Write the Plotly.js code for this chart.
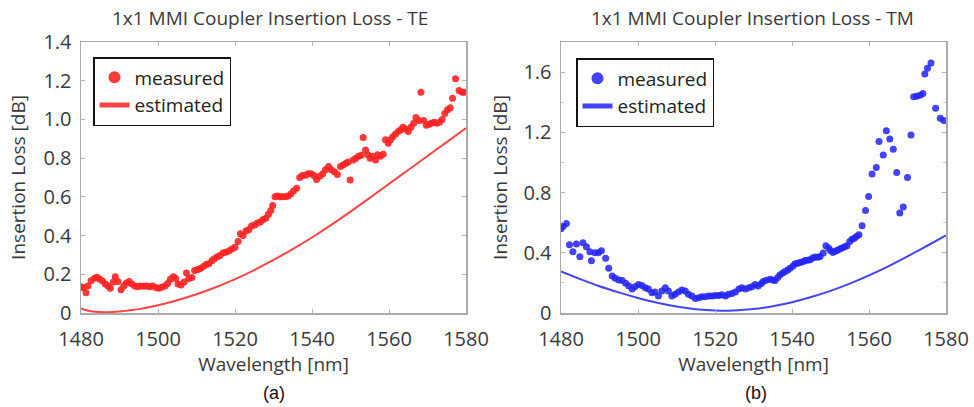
<!DOCTYPE html>
<html>
<head>
<meta charset="utf-8">
<script src="https://cdn.plot.ly/plotly-3.0.1.min.js"></script>
<style>html,body{margin:0;padding:0;background:#fff;}#chart{width:974px;height:407px;}</style>
</head>
<body>
<div id="chart"></div>
<script>
// ---- TE (a) ----
const teMeasWl = [1480.0,1480.6,1481.3,1481.8,1482.6,1483.5,1484.2,1484.9,1485.6,1486.3,1487.0,1487.6,1488.4,1488.9,1489.6,1490.4,1491.1,1491.8,1492.5,1493.2,1494.0,1494.7,1495.4,1496.2,1497.0,1497.8,1498.6,1499.4,1500.2,1501.0,1501.8,1502.5,1503.2,1504.0,1504.6,1505.2,1506.0,1506.8,1507.4,1508.0,1508.8,1509.5,1510.3,1511.0,1511.8,1512.5,1513.2,1514.0,1514.6,1515.4,1516.1,1516.9,1517.6,1518.4,1519.2,1520.0,1520.8,1521.4,1522.1,1522.9,1523.6,1524.3,1525.1,1525.8,1526.6,1527.3,1528.0,1528.7,1529.3,1529.8,1530.4,1531.0,1531.7,1532.4,1533.1,1533.8,1534.5,1535.2,1536.0,1536.8,1537.5,1538.3,1539.0,1539.8,1540.5,1541.2,1542.0,1542.8,1543.5,1544.3,1545.0,1545.8,1546.6,1547.4,1548.1,1548.8,1549.4,1549.9,1550.7,1551.4,1552.1,1552.8,1553.3,1553.9,1554.5,1555.1,1555.8,1556.5,1557.1,1557.8,1558.5,1559.1,1559.8,1560.4,1561.0,1561.7,1562.4,1563.0,1563.6,1564.3,1565.0,1565.7,1566.4,1567.0,1567.8,1568.3,1569.0,1569.7,1570.4,1571.0,1571.7,1572.4,1573.1,1573.8,1574.5,1575.2,1575.9,1576.5,1577.3,1578.2,1579.0,1579.6];
const teMeasIL = [0.135,0.13,0.105,0.14,0.167,0.18,0.185,0.175,0.165,0.15,0.14,0.128,0.16,0.187,0.163,0.12,0.14,0.155,0.163,0.15,0.14,0.135,0.14,0.138,0.14,0.136,0.14,0.132,0.128,0.133,0.14,0.152,0.175,0.187,0.178,0.15,0.145,0.16,0.206,0.178,0.184,0.22,0.225,0.23,0.24,0.25,0.255,0.27,0.28,0.29,0.297,0.31,0.314,0.32,0.33,0.34,0.37,0.41,0.40,0.425,0.43,0.45,0.455,0.465,0.47,0.483,0.49,0.51,0.53,0.555,0.60,0.604,0.60,0.60,0.60,0.605,0.615,0.63,0.645,0.70,0.71,0.712,0.72,0.72,0.71,0.69,0.707,0.72,0.74,0.757,0.74,0.73,0.715,0.757,0.765,0.774,0.78,0.687,0.79,0.80,0.81,0.815,0.907,0.842,0.817,0.80,0.81,0.79,0.817,0.81,0.82,0.895,0.877,0.895,0.91,0.925,0.937,0.946,0.96,0.95,0.937,0.96,0.98,1.01,0.995,1.14,0.995,0.97,0.975,0.98,0.985,0.98,0.985,1.0,1.03,1.05,1.06,1.11,1.21,1.15,1.14,1.14];
const teEstWl = [1480,1482,1484,1486,1488,1490,1495,1500,1505,1510,1515,1520,1525,1530,1535,1540,1545,1550,1555,1560,1565,1570,1575,1580];
const teEstIL = [0.022,0.012,0.006,0.004,0.005,0.008,0.02,0.04,0.066,0.097,0.133,0.175,0.222,0.274,0.33,0.39,0.455,0.524,0.595,0.667,0.739,0.811,0.883,0.955];

// ---- TM (b) ----
const tmMeasWl = [1480.0,1480.6,1481.4,1482.2,1483.1,1484.0,1484.9,1485.7,1486.6,1487.5,1487.9,1488.8,1489.7,1490.5,1491.6,1492.4,1493.3,1494.1,1495.0,1495.9,1496.8,1497.6,1498.5,1499.2,1500.1,1501.0,1501.9,1502.7,1503.6,1504.4,1505.3,1506.2,1507.1,1507.9,1508.8,1509.6,1510.5,1511.4,1512.3,1513.1,1514.0,1514.9,1515.8,1516.6,1517.5,1518.4,1519.2,1520.1,1521.0,1521.8,1522.7,1523.5,1524.4,1525.3,1526.2,1527.0,1527.9,1528.8,1529.6,1530.4,1531.2,1532.0,1532.5,1533.3,1534.3,1535.0,1535.6,1536.3,1536.9,1537.6,1538.2,1538.9,1539.5,1540.2,1540.8,1541.5,1542.1,1542.8,1543.4,1544.1,1544.7,1545.4,1546.0,1546.7,1547.3,1548.1,1548.8,1549.5,1550.0,1550.6,1551.2,1551.8,1552.4,1553.0,1553.7,1554.3,1555.0,1555.6,1556.2,1556.8,1557.4,1558.2,1559.1,1559.9,1560.8,1561.9,1562.6,1563.7,1564.5,1565.4,1566.3,1567.2,1568.0,1568.9,1570.0,1570.9,1571.6,1572.4,1573.3,1574.0,1574.5,1575.2,1576.1,1577.3,1578.5,1579.4];
const tmMeasIL = [0.56,0.576,0.594,0.453,0.407,0.458,0.374,0.467,0.44,0.407,0.347,0.40,0.40,0.413,0.363,0.297,0.246,0.231,0.22,0.216,0.198,0.18,0.16,0.174,0.19,0.183,0.168,0.16,0.135,0.14,0.113,0.146,0.168,0.146,0.113,0.124,0.14,0.153,0.146,0.124,0.113,0.097,0.102,0.108,0.108,0.113,0.113,0.117,0.117,0.122,0.113,0.124,0.13,0.14,0.16,0.168,0.16,0.168,0.175,0.19,0.18,0.195,0.21,0.218,0.225,0.22,0.216,0.235,0.254,0.265,0.276,0.285,0.298,0.31,0.327,0.33,0.336,0.34,0.349,0.35,0.354,0.365,0.372,0.37,0.376,0.398,0.447,0.431,0.415,0.402,0.41,0.416,0.425,0.431,0.44,0.447,0.475,0.49,0.497,0.51,0.52,0.579,0.681,0.774,0.924,0.966,1.139,1.05,1.21,1.155,1.088,0.933,0.664,0.704,0.90,1.183,1.437,1.44,1.447,1.458,1.588,1.625,1.66,1.36,1.294,1.278];
const tmEstWl = [1480,1485,1490,1495,1500,1505,1510,1515,1520,1525,1530,1535,1540,1545,1550,1555,1560,1565,1570,1575,1580];
const tmEstIL = [0.276,0.225,0.178,0.137,0.10,0.068,0.043,0.025,0.016,0.017,0.026,0.045,0.072,0.106,0.147,0.195,0.25,0.31,0.376,0.445,0.515];

const xTickVals = [1480,1500,1520,1540,1560,1580];
const yTickValsA = [0,0.2,0.4,0.6,0.8,1.0,1.2,1.4];
const yTickTextA = ['0','0.2','0.4','0.6','0.8','1.0','1.2','1.4'];
const legendNames = ['measured','estimated'];
const panelTitles = ['1x1 MMI Coupler Insertion Loss - TE','1x1 MMI Coupler Insertion Loss - TM'];
const xTitle = 'Wavelength [nm]';
const yTitle = 'Insertion Loss [dB]';
const captions = ['(a)','(b)'];

const RED = 'rgb(255,35,35)';
const BLUE = 'rgb(35,35,245)';
const FONT = 'Open Sans, sans-serif';
const TXT = '#3a3a3a';

const traces = [
  {x: teMeasWl, y: teMeasIL, type:'scatter', mode:'markers', name: legendNames[0],
   marker:{color:RED, size:7, opacity:0.9}, xaxis:'x', yaxis:'y', legend:'legend'},
  {x: teEstWl, y: teEstIL, type:'scatter', mode:'lines', name: legendNames[1], line:{color:RED, width:2, shape:'spline', smoothing:1},
   opacity:0.85, xaxis:'x', yaxis:'y', legend:'legend'},
  {x: tmMeasWl, y: tmMeasIL, type:'scatter', mode:'markers', name: legendNames[0],
   marker:{color:BLUE, size:7, opacity:0.85}, xaxis:'x2', yaxis:'y2', legend:'legend2'},
  {x: tmEstWl, y: tmEstIL, type:'scatter', mode:'lines', name: legendNames[1], line:{color:BLUE, width:2, shape:'spline', smoothing:1},
   opacity:0.85, xaxis:'x2', yaxis:'y2', legend:'legend2'}
];

const W = 974, H = 407;
const yDom = [(H-313)/H, (H-42)/H];
const frame = {showline:true, linecolor:'#ababab', linewidth:1.5, mirror:'ticks', ticks:'inside', ticklen:4,
  tickcolor:'#b5b5b5', tickwidth:1, showgrid:false, zeroline:false, tickfont:{family:FONT, size:20, color:TXT}};

function xax(dom){ return Object.assign({}, frame, {domain:dom, range:[1480,1580], tickmode:'array', tickvals:xTickVals,
  ticklabelstandoff:7, title:{text:xTitle, font:{family:FONT, size:19, color:TXT}, standoff:3}}); }

const legendStyle = {bgcolor:'#fff', bordercolor:'#111', borderwidth:1.5, xanchor:'left', yanchor:'top',
  font:{family:FONT, size:19, color:'#222'}, itemsizing:'constant', tracegroupgap:0,
  entrywidth:112, entrywidthmode:'pixels'};

const layout = {
  width: W, height: H, margin:{l:0,r:0,t:0,b:0}, paper_bgcolor:'#fff', plot_bgcolor:'#fff',
  xaxis: Object.assign(xax([81/W, 466/W]), {anchor:'y'}),
  yaxis: Object.assign({}, frame, {domain:yDom, range:[0,1.4], anchor:'x', tickmode:'array', tickvals:yTickValsA, ticktext:yTickTextA,
    ticklabelstandoff:4, title:{text:yTitle, font:{family:FONT, size:19, color:TXT}, standoff:12}}),
  xaxis2: Object.assign(xax([561/W, 946/W]), {anchor:'y2'}),
  yaxis2: Object.assign({}, frame, {domain:yDom, range:[0,1.8], anchor:'x2', tickmode:'linear', tick0:0, dtick:0.4,
    minor:{dtick:0.2, ticks:'inside', ticklen:3, tickcolor:'#c5c5c5'},
    ticklabelstandoff:4, title:{text:yTitle, font:{family:FONT, size:19, color:TXT}, standoff:10}}),
  legend: Object.assign({}, legendStyle, {x:93/W, y:1-57/H}),
  legend2: Object.assign({}, legendStyle, {x:576/W, y:1-58/H}),
  annotations: [
    {text:panelTitles[0], xref:'paper', yref:'paper', x:270/W, y:1-18/H, xanchor:'center', yanchor:'middle', showarrow:false,
     font:{family:FONT, size:19, color:TXT}},
    {text:panelTitles[1], xref:'paper', yref:'paper', x:752.5/W, y:1-18/H, xanchor:'center', yanchor:'middle', showarrow:false,
     font:{family:FONT, size:19, color:TXT}},
    {text:captions[0], xref:'paper', yref:'paper', x:274/W, y:1-393/H, xanchor:'center', yanchor:'middle', showarrow:false,
     font:{family:'Liberation Sans, Arial, sans-serif', size:18, color:'#111'}},
    {text:captions[1], xref:'paper', yref:'paper', x:755.5/W, y:1-393/H, xanchor:'center', yanchor:'middle', showarrow:false,
     font:{family:'Liberation Sans, Arial, sans-serif', size:18, color:'#111'}}
  ],
  showlegend: true
};

Plotly.newPlot('chart', traces, layout, {staticPlot:true, displayModeBar:false});
</script>
</body>
</html>
